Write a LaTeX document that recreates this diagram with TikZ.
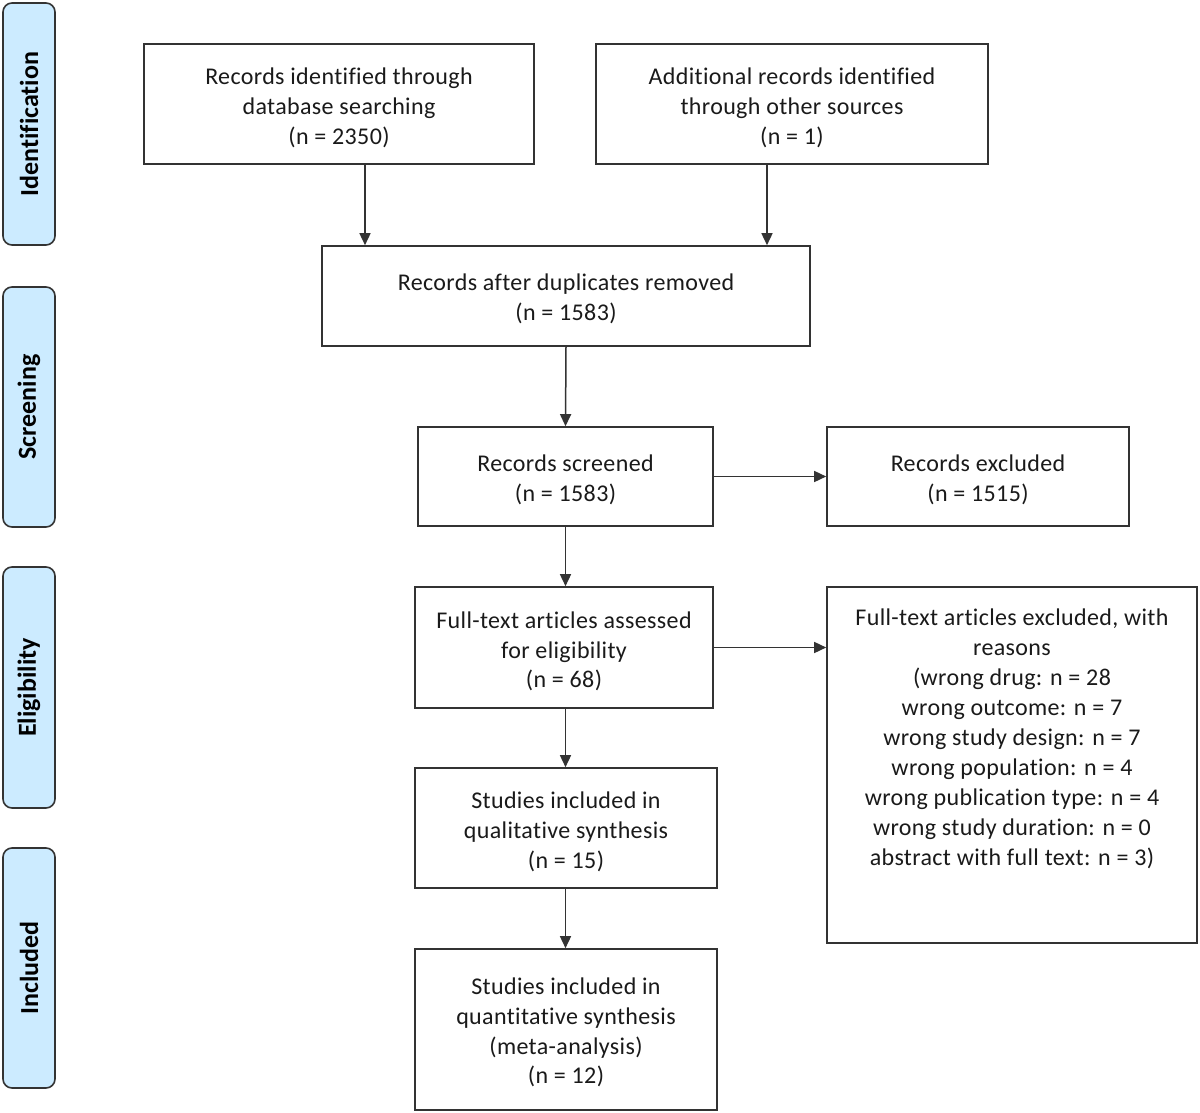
\documentclass[tikz,border=0pt]{standalone}
\usepackage{fontspec}
\setmainfont{Carlito}[Ligatures=NoCommon, LetterSpace=1.5]
\newfontfamily\sidefont{Carlito}[Ligatures=NoCommon]
\usetikzlibrary{arrows.meta}
\definecolor{sidefill}{HTML}{CCEBFF}
\definecolor{linecol}{HTML}{333333}
\definecolor{txtcol}{HTML}{1A1A1A}
\begin{document}
\begin{tikzpicture}[x=1pt,y=-1pt,
  box/.style={draw=linecol, line width=1.6pt, rectangle, inner sep=0pt},
  boxtext/.style={align=center, text=txtcol, inner sep=0pt,
    font=\fontsize{24}{29.7}\selectfont},
  side/.style={draw=linecol, line width=1.6pt, rounded corners=9pt, fill=sidefill,
    minimum width=52pt, inner sep=0pt},
  sidetext/.style={rotate=90, font=\fontsize{26}{30}\sidefont\bfseries, text=black},
  arr/.style={draw=linecol, line width=1.5pt, -{Triangle[length=12pt,width=11pt]}, fill=black}
]
\useasboundingbox (0,0) rectangle (1200,1113);
\fill[white] (0,0) rectangle (1200,1113);

% side phase labels
\node[side, minimum height=242pt] (sid) at (29,124) {};
\node[sidetext] (sidt) at (sid.center) {Identification};
\node[side, minimum height=240pt] (sscr) at (29,407) {};
\node[sidetext] (sscrt) at (sscr.center) {Screening};
\node[side, minimum height=241pt] (selg) at (29,687.5) {};
\node[sidetext] (selgt) at (selg.center) {Eligibility};
\node[side, minimum height=240pt] (sinc) at (29,968) {};
\node[sidetext] (sinct) at (sinc.center) {Included};

% boxes
\node[box, minimum width=390pt, minimum height=120pt] (b1) at (339,104) {};
\node[boxtext] (b1t) at ([yshift=-4pt]b1.center)
  {Records identified through\\database searching\\(n = 2350)};
\node[box, minimum width=392pt, minimum height=120pt] (b2) at (792,104) {};
\node[boxtext] (b2t) at ([yshift=-4pt]b2.center)
  {Additional records identified\\through other sources\\(n = 1)};
\node[box, minimum width=488pt, minimum height=100pt] (b3) at (566,296) {};
\node[boxtext] (b3t) at ([yshift=-3pt]b3.center)
  {Records after duplicates removed\\(n = 1583)};
\node[box, minimum width=295pt, minimum height=99pt] (b4) at (565.5,476.5) {};
\node[boxtext] (b4t) at ([yshift=-3pt]b4.center)
  {Records screened\\(n = 1583)};
\node[box, minimum width=302pt, minimum height=99pt] (b5) at (978,476.5) {};
\node[boxtext] (b5t) at ([yshift=-3pt]b5.center)
  {Records excluded\\(n = 1515)};
\node[box, minimum width=298pt, minimum height=121pt] (b6) at (564,647.5) {};
\node[boxtext] (b6t) at ([yshift=-4pt]b6.center)
  {Full-text articles assessed\\for eligibility\\(n = 68)};
\node[box, minimum width=370pt, minimum height=356pt] (b7) at (1012,765) {};
\node[boxtext, font=\fontsize{24}{30}\selectfont, anchor=north]
  (b7t) at (1012,609)
  {Full-text articles excluded, with\\reasons\\(wrong drug: n = 28\\wrong outcome: n = 7\\wrong study design: n = 7\\wrong population: n = 4\\wrong publication type: n = 4\\wrong study duration: n = 0\\abstract with full text: n = 3)};
\node[box, minimum width=302pt, minimum height=120pt] (b8) at (566,828) {};
\node[boxtext] (b8t) at ([yshift=-4pt]b8.center)
  {Studies included in\\qualitative synthesis\\(n = 15)};
\node[box, minimum width=302pt, minimum height=161pt] (b9) at (566,1029.5) {};
\node[boxtext] (b9t) at ([yshift=-3pt]b9.center)
  {Studies included in\\quantitative synthesis\\(meta-analysis)\\(n = 12)};

% connectors
\draw[arr] (b1.south -| 365,0) -- (b3.north -| 365,0);
\draw[arr] (b2.south -| 767,0) -- (b3.north -| 767,0);
\draw[arr] (b3.south) -- (b4.north);
\draw[arr] (b4.east) -- (b5.west);
\draw[arr] (b4.south) -- (b4.south |- b6.north);
\draw[arr] (b6.east) -- (b6.east -| b7.west);
\draw[arr] (b6.south -| b4.south) -- (b8.north -| b4.south);
\draw[arr] (b8.south -| b4.south) -- (b9.north -| b4.south);
\end{tikzpicture}
\end{document}
